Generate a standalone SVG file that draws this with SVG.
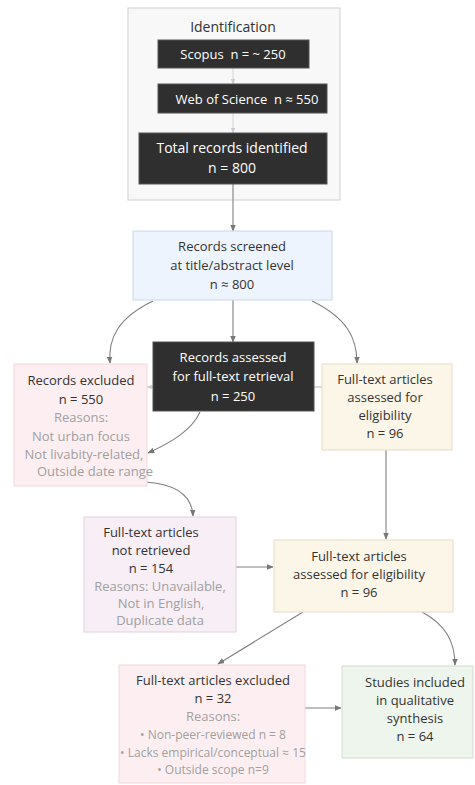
<svg xmlns="http://www.w3.org/2000/svg" width="475" height="785" viewBox="0 0 475 785">
<defs>
<marker id="ah" viewBox="0 0 10 10" refX="9" refY="5" markerWidth="7" markerHeight="7" orient="auto-start-reverse" markerUnits="userSpaceOnUse"><path d="M0,1 L10,5 L0,9 z" fill="#777"/></marker>
<marker id="ahl" viewBox="0 0 10 10" refX="9" refY="5" markerWidth="6" markerHeight="6" orient="auto" markerUnits="userSpaceOnUse"><path d="M0,1 L10,5 L0,9 z" fill="#ccc"/></marker>
<style>
text{font-family:"Open Sans","Noto Sans","DejaVu Sans",sans-serif;font-size:13px;fill:#333;text-anchor:middle}
.w{fill:#fff}
.g{fill:#a0a0a0}
.dark{fill:#2f2f2f;stroke:#555;stroke-width:1}
.pink{fill:#fdeff1;stroke:#efd8dc;stroke-width:1}
.lav{fill:#f7eef6;stroke:#e3d2e0;stroke-width:1}
.cream{fill:#fcf6e9;stroke:#e6dcc6;stroke-width:1}
.blue{fill:#eef4fd;stroke:#c9d7ea;stroke-width:1}
.green{fill:#eef5ec;stroke:#cfdfcb;stroke-width:1}
.c{fill:none;stroke:#808080;stroke-width:1.1}
</style>
</defs>
<rect width="475" height="785" fill="#ffffff"/>
<g id="identification">
<rect x="128" y="8" width="212" height="192" fill="#f8f8f8" stroke="#cfcfcf"/>
<text x="233" y="32" style="font-size:14px">Identification</text>
</g>
<g id="connectors">
<path class="c" d="M233,68 V84" style="stroke:#d8d8d8" marker-end="url(#ahl)"/>
<path class="c" d="M233,113 V133" style="stroke:#d8d8d8" marker-end="url(#ahl)"/>
<path class="c" d="M233,184 V231" marker-end="url(#ah)"/>
<path class="c" d="M233,300 V342" marker-end="url(#ah)"/>
<path class="c" d="M153,301 C118,318 108,338 110,363" marker-end="url(#ah)"/>
<path class="c" d="M312,301 C347,318 357,338 357,363" marker-end="url(#ah)"/>
<path class="c" d="M153,387 H147" style="stroke:#bbb" marker-end="url(#ahl)"/>
<path class="c" d="M314,387 H322" style="stroke:#bbb"/>
<path class="c" d="M200,412 C192,430 172,442 148,453" marker-end="url(#ah)"/>
<path class="c" d="M145,482 C176,484 192,495 193,516" marker-end="url(#ah)"/>
<path class="c" d="M386,450 V539" marker-end="url(#ah)"/>
<path class="c" d="M236,567 H273" marker-end="url(#ah)"/>
<path class="c" d="M303,612 L218,664" marker-end="url(#ah)"/>
<path class="c" d="M422,612 C446,625 455,642 455,665" marker-end="url(#ah)"/>
<path class="c" d="M305,708 H341" marker-end="url(#ah)"/>
</g>
<g id="scopus">
<rect class="dark" x="158" y="40" width="151" height="28"/>
<text class="w" x="233" y="59">Scopus &#160;n = ~ 250</text>
</g>
<g id="wos">
<rect class="dark" x="158" y="84" width="169" height="29"/>
<text class="w" x="247" y="104">Web of Science &#160;n ≈ 550</text>
</g>
<g id="total">
<rect class="dark" x="139" y="133" width="188" height="51"/>
<text class="w" x="232" y="153" style="font-size:14px">Total records identified</text>
<text class="w" x="232" y="173" style="font-size:14px">n = 800</text>
</g>
<g id="screened">
<rect class="blue" x="133" y="231" width="199" height="69"/>
<text x="232" y="251">Records screened</text>
<text x="232" y="270">at title/abstract level</text>
<text x="232" y="289">n ≈ 800</text>
</g>
<g id="assessed-retrieval">
<rect class="dark" x="153" y="342" width="161" height="69"/>
<text class="w" x="233" y="362">Records assessed</text>
<text class="w" x="233" y="381">for full-text retrieval</text>
<text class="w" x="233" y="401">n = 250</text>
</g>
<g id="records-excluded">
<rect class="pink" x="14" y="364" width="133" height="122"/>
<text x="81" y="385">Records excluded</text>
<text x="81" y="404">n = 550</text>
<text class="g" x="81" y="422">Reasons:</text>
<text class="g" x="81" y="441">Not urban focus</text>
<text class="g" x="84" y="459">Not livabity-related,</text>
<text class="g" x="95" y="476">Outside date range</text>
</g>
<g id="eligibility-1">
<rect class="cream" x="322" y="364" width="130" height="86"/>
<text x="385" y="384">Full-text articles</text>
<text x="385" y="402">assessed for</text>
<text x="385" y="420">eligibility</text>
<text x="385" y="438">n = 96</text>
</g>
<g id="not-retrieved">
<rect class="lav" x="84" y="517" width="152" height="115"/>
<text x="151" y="537">Full-text articles</text>
<text x="151" y="555">not retrieved</text>
<text x="151" y="573">n = 154</text>
<text class="g" x="160" y="591">Reasons: Unavailable,</text>
<text class="g" x="161" y="608">Not in English,</text>
<text class="g" x="160" y="625">Duplicate data</text>
</g>
<g id="eligibility-2">
<rect class="cream" x="274" y="540" width="179" height="72"/>
<text x="359" y="561">Full-text articles</text>
<text x="359" y="579">assessed for eligibility</text>
<text x="359" y="597">n = 96</text>
</g>
<g id="fulltext-excluded">
<rect class="pink" x="119" y="665" width="186" height="118"/>
<text x="213" y="685">Full-text articles excluded</text>
<text x="213" y="703">n = 32</text>
<text class="g" x="213" y="721">Reasons:</text>
<text class="g" x="213" y="739" style="font-size:12px">• Non-peer-reviewed n = 8</text>
<text class="g" x="213" y="757" style="font-size:12px">• Lacks empirical/conceptual ≈ 15</text>
<text class="g" x="213" y="774" style="font-size:12px">• Outside scope n=9</text>
</g>
<g id="included">
<rect class="green" x="342" y="666" width="131" height="92"/>
<text x="415" y="687">Studies included</text>
<text x="415" y="705">in qualitative</text>
<text x="415" y="723">synthesis</text>
<text x="415" y="741">n = 64</text>
</g>
</svg>
